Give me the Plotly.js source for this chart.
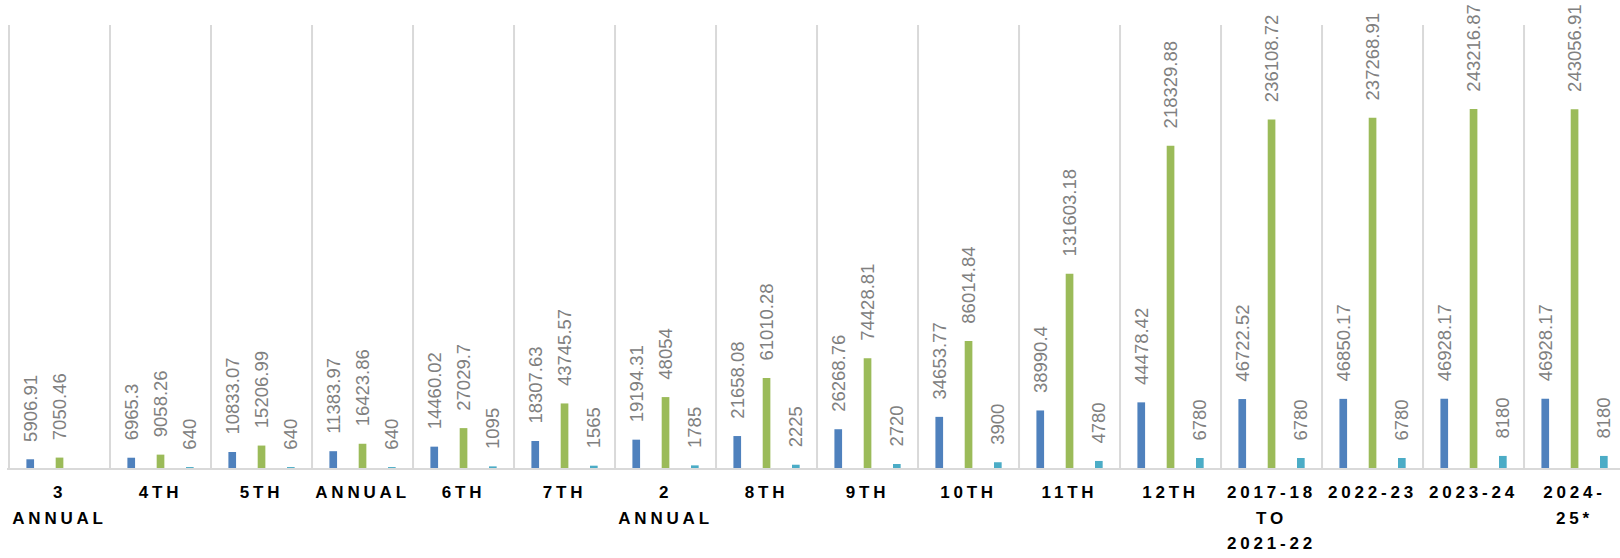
<!DOCTYPE html>
<html>
<head>
<meta charset="utf-8">
<script src="https://cdn.plot.ly/plotly-3.0.1.min.js"></script>
<style>
html,body{margin:0;padding:0;background:#fff;}
#chart{width:1620px;height:558px;}
.xtick text{letter-spacing:3.8px;}
</style>
</head>
<body>
<div id="chart"></div>
<script>
const categories = ["3<br>ANNUAL","4TH","5TH","ANNUAL","6TH","7TH","2<br>ANNUAL","8TH","9TH","10TH","11TH","12TH","2017-18<br>TO<br>2021-22","2022-23","2023-24","2024-<br>25*"];
const seriesBlue = [5906.91,6965.3,10833.07,11383.97,14460.02,18307.63,19194.31,21658.08,26268.76,34653.77,38990.4,44478.42,46722.52,46850.17,46928.17,46928.17];
const seriesGreen = [7050.46,9058.26,15206.99,16423.86,27029.7,43745.57,48054,61010.28,74428.81,86014.84,131603.18,218329.88,236108.72,237268.91,243216.87,243056.91];
const seriesTeal = [null,640,640,640,1095,1565,1785,2225,2720,3900,4780,6780,6780,6780,8180,8180];

const PAD = '\u2002\u00a0';
const xs = categories.map((c,i)=>i);
function mk(vals, color, offset){
  return {
    type:'bar', x:xs, y:vals, width:0.076, offset:offset,
    marker:{color:color},
    text: vals.map(v => v==null ? '' : PAD + String(v)),
    textposition:'outside', textangle:-90, constraintext:'none', cliponaxis:false,
    textfont:{family:'Liberation Sans, Arial, sans-serif', size:18.5, color:'#808080'},
    hoverinfo:'skip', showlegend:false
  };
}
const data = [
  mk(seriesBlue,'#4f81bd',-0.328),
  mk(seriesGreen,'#9bbb59',-0.038),
  mk(seriesTeal,'#4bacc6',0.252)
];
const layout = {
  width:1620, height:558,
  margin:{l:7, r:0, t:25, b:90},
  paper_bgcolor:'#fff', plot_bgcolor:'#fff',
  barmode:'overlay',
  xaxis:{
    type:'linear', range:[-0.52, 15.45],
    tickmode:'array', tickvals:xs, ticktext:categories,
    showgrid:false, zeroline:false, ticks:'',
    showline:true, linecolor:'#d9d9d9', linewidth:2,
    ticklabelstandoff:8,
    tickfont:{family:'Liberation Sans, Arial, sans-serif', size:17, color:'#000', weight:'bold'},
    fixedrange:true
  },
  yaxis:{range:[0,300170], visible:false, fixedrange:true},
  shapes: xs.map(i => ({type:'line', xref:'x', yref:'paper', x0:i-0.5, x1:i-0.5, y0:0, y1:1, line:{color:'#d9d9d9', width:2}, layer:'below'}))
};
function spaceLines(){
  document.querySelectorAll('.xtick text tspan.line').forEach(t => {
    const dy = parseFloat(t.getAttribute('dy') || '0');
    if (dy > 0) t.setAttribute('dy', (dy / 1.3 * 1.5) + 'em');
  });
}
Plotly.newPlot('chart', data, layout, {displayModeBar:false, staticPlot:true}).then(spaceLines);
</script>
</body>
</html>
